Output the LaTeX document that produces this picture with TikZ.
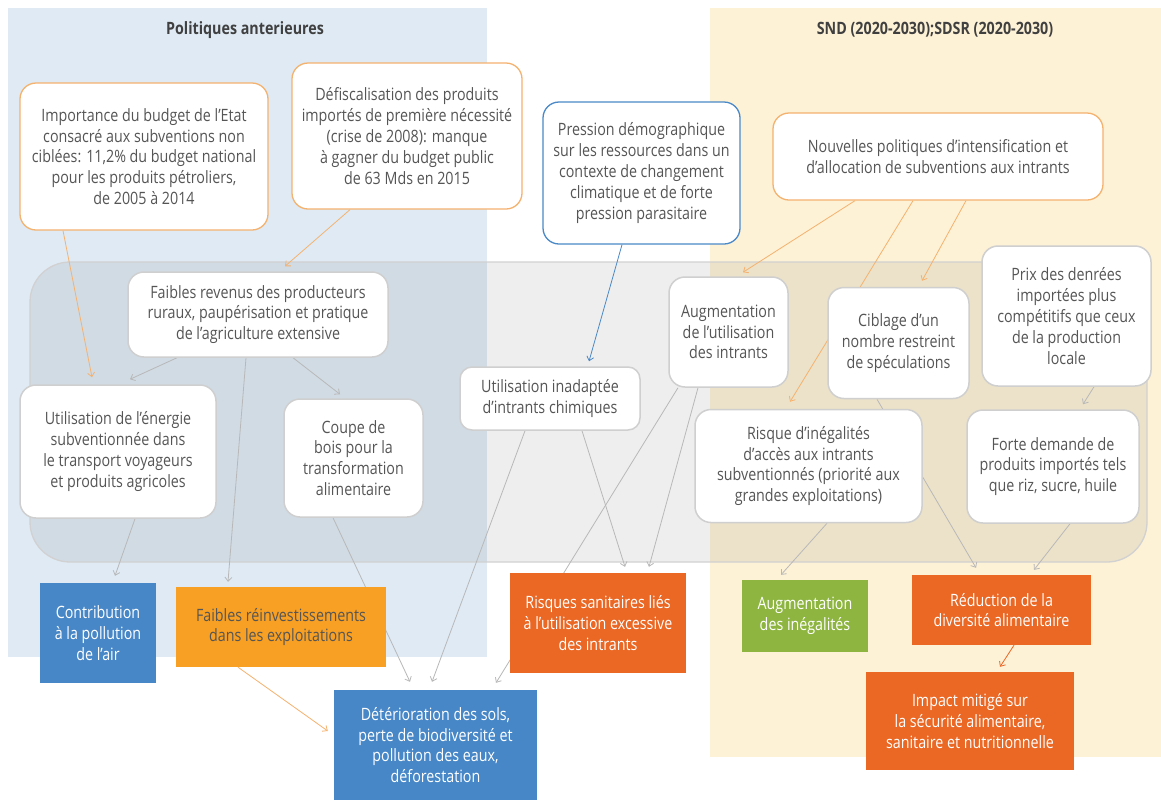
\documentclass[tikz,border=0pt]{standalone}
\usepackage{fontspec}
\setmainfont{Open Sans}[FakeStretch=0.84]
\usetikzlibrary{arrows.meta}
\definecolor{regblue}{HTML}{DFEAF4}
\definecolor{regyel}{HTML}{FDF1D6}
\definecolor{bandgray}{HTML}{5F5F5F}
\definecolor{txt}{HTML}{555555}
\definecolor{oborder}{HTML}{F5B26E}
\definecolor{bborder}{HTML}{4A89C8}
\definecolor{gborder}{HTML}{CFCFCF}
\definecolor{cblue}{HTML}{4787C7}
\definecolor{corange}{HTML}{F7A024}
\definecolor{cred}{HTML}{EA6724}
\definecolor{cgreen}{HTML}{8DB53F}
\definecolor{edgegray}{HTML}{B8B8B8}
\pgfdeclarelayer{bg}
\pgfdeclarelayer{band}
\pgfdeclarelayer{edges}
\pgfsetlayers{bg,band,edges,main}
\tikzset{
  txtfont/.style={font=\fontsize{17}{20.8}\selectfont},
  wbox/.style={txtfont, rectangle, rounded corners=16pt, fill=white, draw=gborder, line width=1.5pt, align=center, text=txt, inner sep=0pt},
  obox/.style={wbox, draw=oborder, line width=1.3pt},
  bbox/.style={wbox, draw=bborder, line width=1.3pt},
  cbox/.style={txtfont, rectangle, align=center, text=white, inner sep=0pt},
  hdr/.style={font=\fontsize{17}{20}\selectfont\bfseries, text=black!75},
  arr/.style={draw=edgegray, line width=0.8pt, -{Straight Barb[length=4pt,width=7pt]}},
  oarr/.style={arr, draw=oborder},
  barr/.style={arr, draw=bborder},
  rarr/.style={arr, draw=cred},
}
\begin{document}
\begin{tikzpicture}[x=1pt,y=-1pt]
\useasboundingbox (0,0) rectangle (1161,801);
\begin{pgfonlayer}{bg}
  \fill[white] (0,0) rectangle (1161,801);
  \fill[regblue] (8,8) rectangle (487,657);
  \fill[regyel] (710,8) rectangle (1161,757);
\end{pgfonlayer}
\begin{pgfonlayer}{band}
  \filldraw[fill=bandgray, fill opacity=0.1, draw=black!18, line width=1.3pt, rounded corners=40pt] (30,262) rectangle (1147,562);
\end{pgfonlayer}

\node[hdr] (h1) at (245,30) {Politiques anterieures};
\node[hdr] (h2) at (935,30) {SND (2020-2030);SDSR (2020-2030)};

\node[obox, minimum width=248pt, minimum height=147pt] (imp) at (144,156.5)
  {Importance du budget de l’Etat\\consacré aux subventions non\\ciblées: 11,2\% du budget national\\pour les produits pétroliers,\\de 2005 à 2014};
\node[obox, minimum width=230pt, minimum height=146pt] (def) at (407,136)
  {Défiscalisation des produits\\importés de première nécessité\\(crise de 2008): manque\\à gagner du budget public\\de 63 Mds en 2015};
\node[bbox, minimum width=197pt, minimum height=142pt] (pres) at (641.5,173)
  {Pression démographique\\sur les ressources dans un\\contexte de changement\\climatique et de forte\\pression parasitaire};
\node[obox, minimum width=330pt, minimum height=87pt] (nouv) at (938,156.5)
  {Nouvelles politiques d’intensification et\\d’allocation de subventions aux intrants};

\node[wbox, minimum width=260pt, minimum height=85pt] (faib) at (258,314.5)
  {Faibles revenus des producteurs\\ruraux, paupérisation et pratique\\de l’agriculture extensive};
\node[wbox, minimum width=196pt, minimum height=133pt] (util) at (118,451.5)
  {Utilisation de l’énergie\\subventionnée dans\\le transport voyageurs\\et produits agricoles};
\node[wbox, minimum width=139pt, minimum height=118pt] (coupe) at (353.5,458)
  {Coupe de\\bois pour la\\transformation\\alimentaire};
\node[wbox, minimum width=180pt, minimum height=63pt, rounded corners=12pt] (inad) at (550,398.5)
  {Utilisation inadaptée\\d’intrants chimiques};
\node[wbox, minimum width=119pt, minimum height=110pt] (aug) at (728.5,332)
  {Augmentation\\de l’utilisation\\des intrants};
\node[wbox, minimum width=141pt, minimum height=111pt] (cib) at (898.5,343)
  {Ciblage d’un\\nombre restreint\\de spéculations};
\node[wbox, minimum width=169pt, minimum height=140pt] (prix) at (1066.5,316)
  {Prix des denrées\\importées plus\\compétitifs que ceux\\de la production\\locale};
\node[wbox, minimum width=227pt, minimum height=113pt] (risq) at (808.5,466)
  {Risque d’inégalités\\d’accès aux intrants\\subventionnés (priorité aux\\grandes exploitations)};
\node[wbox, minimum width=172pt, minimum height=113pt] (forte) at (1053,466.5)
  {Forte demande de\\produits importés tels\\que riz, sucre, huile};

\node[cbox, fill=cblue, minimum width=116pt, minimum height=100pt] (contrib) at (98,633)
  {Contribution\\à la pollution\\de l’air};
\node[cbox, fill=corange, text=txt, minimum width=210pt, minimum height=80pt] (reinv) at (281,627)
  {Faibles réinvestissements\\dans les exploitations};
\node[cbox, fill=cblue, minimum width=203pt, minimum height=110pt] (deter) at (435.5,745)
  {Détérioration des sols,\\perte de biodiversité et\\pollution des eaux,\\déforestation};
\node[cbox, fill=cred, minimum width=176pt, minimum height=100pt] (rsan) at (598,623)
  {Risques sanitaires liés\\à l’utilisation excessive\\des intrants};
\node[cbox, fill=cgreen, minimum width=126pt, minimum height=72pt] (ineg) at (805,616)
  {Augmentation\\des inégalités};
\node[cbox, fill=cred, minimum width=179pt, minimum height=70pt] (redu) at (1001.5,610)
  {Réduction de la\\diversité alimentaire};
\node[cbox, fill=cred, minimum width=208pt, minimum height=98pt] (impact) at (970,721)
  {Impact mitigé sur\\la sécurité alimentaire,\\sanitaire et nutritionnelle};

\begin{pgfonlayer}{edges}
  \draw[oarr] ([xshift=-81pt]imp.south) -- ([xshift=-26pt,yshift=7pt]util.north);
  \draw[oarr] ([xshift=-57pt]def.south) -- ([xshift=27pt,yshift=5pt]faib.north);
  \draw[barr] ([xshift=-19.5pt]pres.south) -- ([xshift=39pt,yshift=5pt]inad.north);
  \draw[oarr] ([xshift=-83pt]nouv.south) -- ([xshift=14.5pt,yshift=4pt]aug.north);
  \draw[oarr] ([xshift=-25pt]nouv.south) -- ([xshift=-18.5pt,yshift=7pt]risq.north);
  \draw[oarr] ([xshift=28pt]nouv.south) -- ([xshift=23.5pt,yshift=6pt]cib.north);
  \draw[arr] ([xshift=-81pt]faib.south) -- ([xshift=12pt,yshift=5pt]util.north);
  \draw[arr] ([xshift=35pt]faib.south) -- ([xshift=-13.5pt,yshift=4pt]coupe.north);
  \draw[arr] ([xshift=-12pt]faib.south) -- ([xshift=-53pt,yshift=5pt]reinv.north);
  \draw[arr] ([xshift=17pt]util.south) -- ([xshift=17pt,yshift=7pt]contrib.north);
  \draw[arr] ([xshift=-20.5pt]coupe.south) -- ([xshift=-25.5pt,yshift=8pt]deter.north);
  \draw[arr] ([xshift=-25pt]inad.south) -- ([xshift=-3.5pt,yshift=8pt]deter.north);
  \draw[arr] ([xshift=-50.5pt]aug.south) -- ([xshift=60.5pt,yshift=7pt]deter.north);
  \draw[arr] ([xshift=-30.5pt]aug.south) -- ([xshift=51pt,yshift=6pt]rsan.north);
  \draw[arr] ([xshift=32pt]inad.south) -- ([xshift=27pt,yshift=6pt]rsan.north);
  \draw[arr] ([xshift=18.5pt]risq.south) -- ([xshift=-24pt,yshift=5pt]ineg.north);
  \draw[arr] ([xshift=-21.5pt]cib.south) -- ([xshift=-25.5pt,yshift=7pt]redu.north);
  \draw[arr] ([xshift=17pt]forte.south) -- ([xshift=32.5pt,yshift=5pt]redu.north);
  \draw[arr] ([xshift=27.5pt]prix.south) -- ([xshift=30pt,yshift=5pt]forte.north);
  \draw[rarr] ([xshift=12.5pt]redu.south) -- ([xshift=30pt,yshift=5pt]impact.north);
  \draw[oarr] ([xshift=-43pt]reinv.south) -- ([xshift=-6pt,yshift=14pt]deter.west);
\end{pgfonlayer}
\end{tikzpicture}
\end{document}
